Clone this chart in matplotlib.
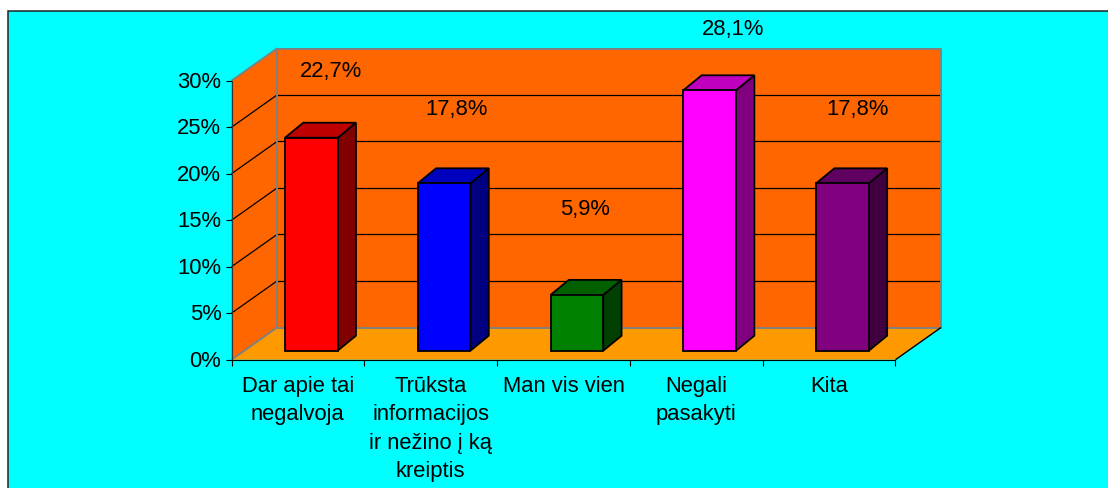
import matplotlib
matplotlib.use("Agg")
import matplotlib.pyplot as plt
from matplotlib.patches import Polygon, Rectangle
from matplotlib.transforms import ScaledTranslation

plt.rcParams['font.family'] = ['Liberation Sans', 'DejaVu Sans']

categories = ["Dar apie tai\nnegalvoja", "Trūksta\ninformacijos\nir nežino į ką\nkreiptis",
              "Man vis vien", "Negali\npasakyti", "Kita"]
bar_heights = [22.9, 18.0, 6.0, 28.0, 18.0]
value_labels = ["22,7%", "17,8%", "5,9%", "28,1%", "17,8%"]
y_ticks = [0, 5, 10, 15, 20, 25, 30]
y_tick_labels = ["0%", "5%", "10%", "15%", "20%", "25%", "30%"]
front_colors = ["#FF0000", "#0000FF", "#008000", "#FF00FF", "#800080"]
top_colors = ["#BF0000", "#0000BF", "#006000", "#BF00BF", "#600060"]
side_colors = ["#800000", "#000080", "#004000", "#800080", "#400040"]

W, H = 1108, 489
FS = 15.8
fig = plt.figure(figsize=(W / 100, H / 100), dpi=100, facecolor="white")

# chart-area background with its visible top/left frame
fig.patches.append(Rectangle((8.0 / W, -0.05), 1.1, (H - 11.5) / H + 0.05, transform=fig.transFigure,
                             facecolor="#00FFFF", edgecolor="#222222", linewidth=1.1, zorder=-5))

L, R, T, B = 231.5, 895.5, 81.7, 360.7
ax = fig.add_axes([L / W, 1 - B / H, (R - L) / W, (B - T) / H])
ax.set_xlim(0, 5)
ax.set_ylim(0, 30)
ax.patch.set_visible(False)
px_x = 5 / (R - L)
px_y = 30 / (B - T)
DX, DY = 45.5 * px_x, 32.2 * px_y      # wall depth
GRAY = "#808080"


def poly(points, fc, ec="none", lw=0, z=1):
    ax.add_patch(Polygon(points, closed=True, facecolor=fc, edgecolor=ec, linewidth=lw,
                         zorder=z, clip_on=False, joinstyle="miter"))


def seg(xs, ys, color, lw=1.0, z=2):
    ax.plot(xs, ys, color=color, lw=lw, zorder=z, clip_on=False, solid_capstyle="butt")


# walls and floor
poly([(0, 0), (DX, DY), (DX, 30 + DY), (0, 30)], "#FF6600")
poly([(DX, DY), (5 + DX, DY), (5 + DX, 30 + DY), (DX, 30 + DY)], "#FF6600")
poly([(0, 0), (5, 0), (5 + DX, DY), (DX, DY)], "#FF9900")

# gridlines
for v in y_ticks[1:-1]:
    seg([0, DX], [v, v + DY], "black", 0.9)
    seg([DX, 5 + DX], [v + DY, v + DY], "black", 0.9)

# wall outlines
seg([0, DX, DX], [30, 30 + DY, DY], GRAY, 1.4, 3)
seg([DX, 5 + DX, 5 + DX, DX], [30 + DY, 30 + DY, DY, DY], GRAY, 1.4, 3)
seg([0, DX], [0, DY], GRAY, 1.4, 3)
seg([5, 5 + DX], [0, DY], "black", 1.0, 3)

# bars
BAR_W = 0.397
BX, BY = 13.4 * px_x, 9 * px_y       # where the bars stand on the floor
DBX, DBY = 18.3 * px_x, 15 * px_y    # bar depth
for i, h in enumerate(bar_heights):
    x0 = i + 0.5 - BAR_W / 2 + BX
    x1 = x0 + BAR_W
    y0, y1 = BY, BY + h
    poly([(x1, y0), (x1 + DBX, y0 + DBY), (x1 + DBX, y1 + DBY), (x1, y1)], side_colors[i], "black", 1.3, 5)
    poly([(x0, y1), (x1, y1), (x1 + DBX, y1 + DBY), (x0 + DBX, y1 + DBY)], top_colors[i], "black", 1.3, 5)
    poly([(x0, y0), (x1, y0), (x1, y1), (x0, y1)], front_colors[i], "black", 1.3, 6)

# axes
for s in ("top", "right"):
    ax.spines[s].set_visible(False)
ax.spines["left"].set_color("#333333")
ax.spines["left"].set_zorder(4)
ax.spines["bottom"].set_color("black")
ax.spines["bottom"].set_zorder(4)
ax.set_yticks(y_ticks, y_tick_labels, fontsize=FS)
ax.set_xticks(range(6))
ax.set_xticklabels([])
ax.tick_params(axis="y", length=4.3, width=0.8, pad=3, color="black")
ax.tick_params(axis="x", length=4.3, width=0.8, color="black")
nudge = ScaledTranslation(0, 1.7 / 100, fig.dpi_scale_trans)
for lab in ax.get_yticklabels():
    lab.set_transform(lab.get_transform() + nudge)

# category labels
for i, c in enumerate(categories):
    ax.annotate(c, xy=(i + 0.5, 0), xycoords="data", xytext=(0, -11), textcoords="offset points",
                ha="center", va="top", fontsize=FS, linespacing=1.46, multialignment="center")

# value labels placed where the source chart left them
label_px = [(331, 71), (457, 110), (585, 210), (733, 30), (858, 110)]
for (px, py), t in zip(label_px, value_labels):
    fig.text(px / W, 1 - py / H, t, ha="center", va="center", fontsize=FS, zorder=10)

fig.savefig("out.png", dpi=100, facecolor="white")
